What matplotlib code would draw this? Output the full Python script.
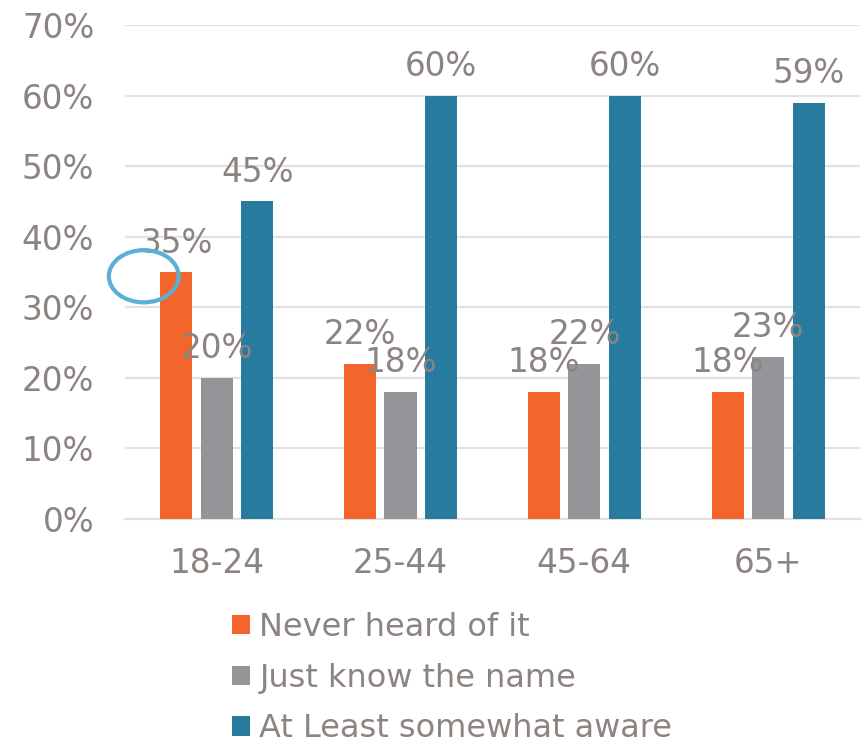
import numpy as np
import matplotlib.pyplot as plt
from matplotlib.patches import Ellipse, Patch

plt.rcParams['font.family'] = ['DejaVu Sans']

age_groups = ['18-24', '25-44', '45-64', '65+']
series_names = ['Never heard of it', 'Just know the name', 'At Least somewhat aware']
never_heard = [35, 22, 18, 18]
know_name = [20, 18, 22, 23]
somewhat_aware = [45, 60, 60, 59]
y_ticks = [0, 10, 20, 30, 40, 50, 60, 70]

colors = ['#F4652B', '#939598', '#267B9F']
text_color = '#8C8480'
grid_color = '#E2E2E2'
fs = 23.5

fig = plt.figure(figsize=(8.67, 7.47), dpi=100)
ax = fig.add_axes([0.144, 0.3052, 0.848, 0.6613])

x = np.arange(len(age_groups))
width = 0.175
step = 0.22
all_series = [never_heard, know_name, somewhat_aware]

for i, (vals, name, col) in enumerate(zip(all_series, series_names, colors)):
    pos = x + (i - 1) * step
    bars = ax.bar(pos, vals, width=width, color=col, label=name, zorder=3)
    for b, v in zip(bars, vals):
        ax.annotate(f'{v}%', (b.get_x() + b.get_width() / 2, v),
                    xytext=(0, 9), textcoords='offset points',
                    ha='center', va='bottom', fontsize=fs, color=text_color,
                    zorder=5)

# circle marking the youngest group's "never heard" value
ax.add_patch(Ellipse((-0.397, 34.4), 0.38, 7.4, fill=False,
                     edgecolor='#5BAFD6', linewidth=3, zorder=6, clip_on=False))

ax.set_xlim(-0.5, 3.5)
ax.set_ylim(0, 70)
ax.set_yticks(y_ticks)
ax.set_yticklabels([f'{t}%' for t in y_ticks])
ax.set_xticks(x)
ax.set_xticklabels(age_groups)
ax.tick_params(axis='both', length=0, labelsize=fs, labelcolor=text_color)
ax.tick_params(axis='y', pad=22)
ax.tick_params(axis='x', pad=20)
ax.yaxis.grid(True, color=grid_color, linewidth=1.6, zorder=0)
for side in ['top', 'right', 'left']:
    ax.spines[side].set_visible(False)
ax.spines['bottom'].set_color(grid_color)
ax.spines['bottom'].set_linewidth(1.6)

handles = [Patch(facecolor=c, edgecolor='none') for c in colors]
leg = fig.legend(handles, series_names, loc='upper left',
                 bbox_to_anchor=(0.2676, 0.181), frameon=False,
                 fontsize=23, labelcolor=text_color,
                 handlelength=0.56, handleheight=0.56, handletextpad=0.3,
                 labelspacing=0.62, borderpad=0, borderaxespad=0)

fig.savefig('out.png', dpi=100)
